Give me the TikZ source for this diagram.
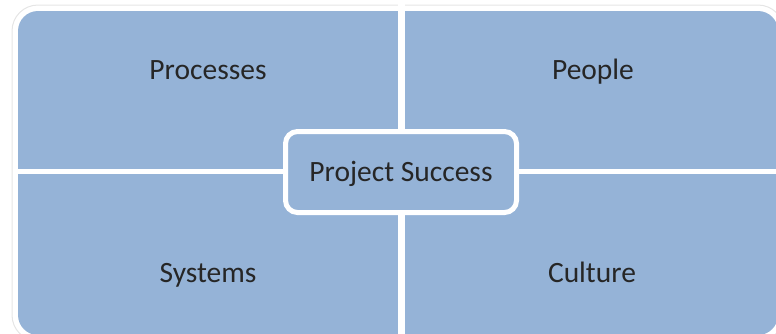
\documentclass[tikz,border=0pt]{standalone}
\usepackage{fontspec}
\setmainfont{Carlito}
\usepackage{tikz}
\usetikzlibrary{backgrounds}
\definecolor{quadblue}{HTML}{95B3D7}
\newcommand{\boxcolor}{quadblue}
\newcommand{\gap}{7pt}
\newcommand{\rim}{5pt}

\begin{document}
\begin{tikzpicture}[x=1pt,y=-1pt,
  quadtext/.style={font=\fontsize{29.5}{34}\selectfont, text=black!85,
    text height=22pt, text depth=4pt, inner sep=0pt}]
\useasboundingbox (0,0) rectangle (776,333);
\coordinate (topgap) at (401.5,0);
\coordinate (botgap) at (401.5,340);
\coordinate (leftgap) at (18,171.5);
\coordinate (rightgap) at (778,171.5);
%outer frame and quadrants
\draw[black!10, line width=1pt, rounded corners=26pt] (12,5) rectangle (784,341);
\fill[\boxcolor, rounded corners=20pt] (18,11) rectangle (778,335);
\draw[white] [line width = \gap] (topgap) -- (botgap);
\draw[white] [line width = 5pt] (leftgap) -- (rightgap);
%labels
\node[quadtext] (processes) at (208,70) {Processes};
\node[quadtext] (people) at (593,70) {People};
\node[quadtext] (systems) at (208,273) {Systems};
\node[quadtext] (culture) at (592,273) {Culture};
%centre
\node[quadtext, draw=white, line width=\rim, fill=\boxcolor, rounded corners=12pt,
  minimum width=231pt, minimum height=81pt] (success) at (401,172) {Project Success};
\end{tikzpicture}
\end{document}
